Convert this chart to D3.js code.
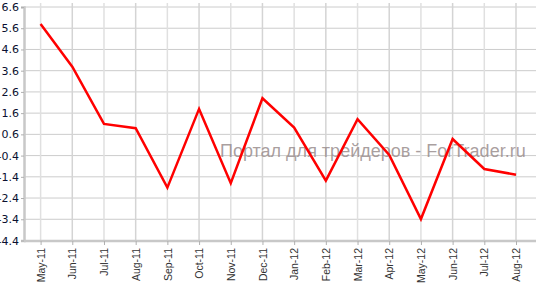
<!DOCTYPE html>
<html>
<head>
<meta charset="utf-8">
<script src="https://cdn.jsdelivr.net/npm/d3@7"></script>
<style>
  body { margin: 0; background: #fff; }
  svg { display: block; }
</style>
</head>
<body>
<svg id="chart" width="536" height="284" viewBox="0 0 536 284"></svg>
<script>
const months = ["May-11","Jun-11","Jul-11","Aug-11","Sep-11","Oct-11","Nov-11","Dec-11",
                "Jan-12","Feb-12","Mar-12","Apr-12","May-12","Jun-12","Jul-12","Aug-12"]
const values = [5.8, 3.79, 1.09, 0.89, -1.91, 1.8, -1.7, 2.3,
                0.92, -1.58, 1.31, -0.37, -3.39, 0.38, -1.03, -1.3]
const yTicks = [6.6, 5.6, 4.6, 3.6, 2.6, 1.6, 0.6, -0.4, -1.4, -2.4, -3.4, -4.4]
const watermark = "Портал для трейдеров - ForTrader.ru"

const svg = d3.select("#chart")
const plotLeft = 24, plotRight = 536, plotTop = 3, plotBottom = 241

const x = d3.scalePoint()
    .domain(months)
    .range([24.75, 531.85])
    .padding(0.5)

const y = d3.scaleLinear()
    .domain([-4.4, 6.6])
    .range([240.5, 7])

// grid
svg.append("g")
    .selectAll("line")
    .data(yTicks)
    .enter()
    .append("line")
    .attr("x1", plotLeft).attr("x2", plotRight)
    .attr("y1", d => y(d)).attr("y2", d => y(d))
    .attr("stroke", "#cccccc")

svg.append("g")
    .selectAll("line")
    .data(months)
    .enter()
    .append("line")
    .attr("x1", d => x(d)).attr("x2", d => x(d))
    .attr("y1", plotTop).attr("y2", plotBottom)
    .attr("stroke", (d, i) => i % 2 ? "#d4d4d4" : "#e0e0e0")
    .attr("stroke-width", 1.5)

// watermark under the line
svg.append("text")
    .attr("x", 220)
    .attr("y", 157)
    .attr("font-family", "Liberation Sans, Arial, sans-serif")
    .attr("font-size", 18)
    .attr("fill", "#9a8e8e")
    .attr("fill-opacity", 0.85)
    .text(watermark)

// axes
const yAxis = svg.append("g")
    .attr("transform", `translate(${plotLeft},0)`)
    .call(d3.axisLeft(y).tickValues(yTicks).tickSize(3).tickPadding(2))
yAxis.select(".domain").attr("stroke", "#c8c8c8").attr("stroke-width", 2.5)
yAxis.selectAll(".tick line").attr("stroke", "#b0b0b0")
yAxis.selectAll("text")
    .attr("font-family", "DejaVu Sans, Verdana, sans-serif")
    .attr("font-size", 11)
    .attr("fill", "#0a1030")
    .text(d => d.toFixed(1))

const xAxis = svg.append("g")
    .attr("transform", `translate(0,${plotBottom})`)
    .call(d3.axisBottom(x).tickSize(4).tickSizeOuter(0))
xAxis.select(".domain")
    .attr("d", `M${plotLeft},0H${plotRight}`)
    .attr("stroke", "#c8c8c8").attr("stroke-width", 2.5)
xAxis.selectAll(".tick line").attr("stroke", "#b0b0b0")
xAxis.selectAll("text")
    .attr("font-family", "Liberation Sans, Arial, sans-serif")
    .attr("font-size", 10.5)
    .attr("fill", "#333")
    .attr("text-anchor", "end")
    .attr("transform", "rotate(-90)")
    .attr("x", -7)
    .attr("y", 0)
    .attr("dy", "0.35em")

// line
const line = d3.line()
    .x((d, i) => x(months[i]))
    .y(d => y(d))

svg.append("path")
    .datum(values)
    .attr("d", line)
    .attr("fill", "none")
    .attr("stroke", "#ff0000")
    .attr("stroke-width", 2.5)
    .attr("stroke-linejoin", "miter")
</script>
</body>
</html>
